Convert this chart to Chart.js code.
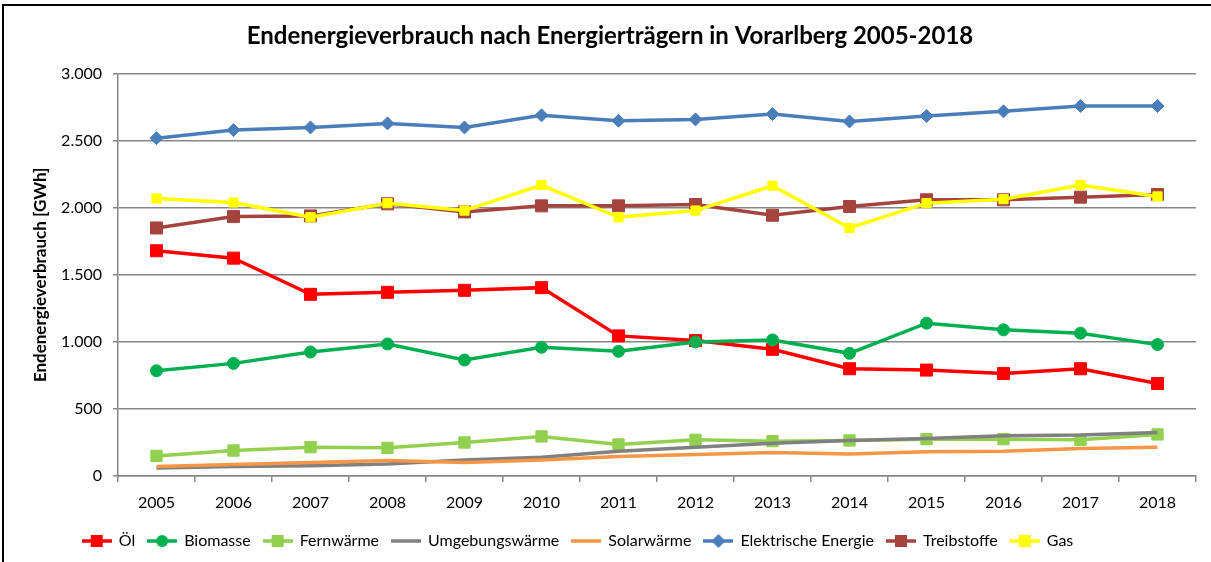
<!DOCTYPE html>
<html>
<head>
<meta charset="utf-8">
<script src="https://cdn.jsdelivr.net/npm/chart.js@4"></script>
<style>
  html, body { margin: 0; padding: 0; background: #fff; }
  #wrap { position: relative; width: 1211px; height: 562px; }
  canvas { display: block; }
</style>
</head>
<body>
<div id="wrap"><canvas id="c" width="1211" height="562"></canvas></div>
<script>
const years = ['2005','2006','2007','2008','2009','2010','2011','2012','2013','2014','2015','2016','2017','2018'];
const oel = [1680,1625,1355,1370,1385,1405,1045,1010,945,800,790,765,800,690];
const biomasse = [785,840,925,985,865,960,930,1000,1015,915,1140,1090,1065,980];
const fernwaerme = [150,190,215,210,250,295,235,270,260,265,275,275,270,310];
const umgebungswaerme = [60,70,77,90,120,140,185,215,245,265,280,300,305,325];
const solarwaerme = [70,85,100,115,100,120,145,160,175,165,180,185,205,215];
const elektrisch = [2520,2580,2600,2630,2600,2690,2650,2660,2700,2645,2685,2720,2760,2760];
const treibstoffe = [1850,1935,1940,2030,1970,2015,2015,2025,1945,2010,2060,2060,2080,2100];
const gas = [2070,2040,1930,2035,1980,2170,1930,1980,2165,1850,2035,2065,2170,2085];
const seriesNames = ['Öl','Biomasse','Fernwärme','Umgebungswärme','Solarwärme','Elektrische Energie','Treibstoffe','Gas'];
const yTickValues = [0,500,1000,1500,2000,2500,3000];
const yTickLabels = ['0','500','1.000','1.500','2.000','2.500','3.000'];
const titleText = 'Endenergieverbrauch nach Energierträgern in Vorarlberg 2005-2018';
const yTitle = 'Endenergieverbrauch [GWh]';

const FONT = 'Lato, "Open Sans", sans-serif';

const styles = [
  {color:'#FF0000', point:'rect', r:8.5},
  {color:'#00B050', point:'circle', r:6},
  {color:'#92D050', point:'rect', r:8},
  {color:'#808080', point:false, r:0},
  {color:'#F79646', point:false, r:0},
  {color:'#4A7EBB', point:'rectRot', r:6.5},
  {color:'#A5443F', point:'rect', r:8.5},
  {color:'#FFFF00', point:'rect', r:6.5}
];
const seriesData = [oel, biomasse, fernwaerme, umgebungswaerme, solarwaerme, elektrisch, treibstoffe, gas];

function legendIcon(st) {
  const c = document.createElement('canvas');
  c.width = 30; c.height = 16;
  const g = c.getContext('2d');
  g.strokeStyle = st.color; g.lineWidth = 3.5;
  g.beginPath(); g.moveTo(0, 8); g.lineTo(30, 8); g.stroke();
  g.fillStyle = st.color;
  if (st.point === 'rect') { g.fillRect(9, 2, 12, 12); }
  else if (st.point === 'circle') { g.beginPath(); g.arc(15, 8, 6, 0, Math.PI*2); g.fill(); }
  else if (st.point === 'rectRot') { g.beginPath(); g.moveTo(15,1); g.lineTo(22,8); g.lineTo(15,15); g.lineTo(8,8); g.closePath(); g.fill(); }
  return c;
}

const datasets = seriesData.map((d, i) => ({
  label: seriesNames[i],
  data: d,
  borderColor: styles[i].color,
  backgroundColor: styles[i].color,
  borderWidth: 3.5,
  pointStyle: styles[i].point || 'circle',
  pointRadius: styles[i].point ? styles[i].r : 0,
  pointBorderWidth: 1,
  pointBorderColor: styles[i].color,
  pointBackgroundColor: styles[i].color,
  tension: 0,
  order: 10 - i
}));

const framePlugin = {
  id: 'frame',
  afterLayout(chart) {
    if (chart.legend) { chart.legend.left -= 20; chart.legend.right -= 20; }
    if (chart.titleBlock) { chart.titleBlock.left += 12; chart.titleBlock.right += 12; }
  },
  beforeDraw(chart) {
    const ctx = chart.ctx;
    ctx.save();
    ctx.fillStyle = '#fff';
    ctx.fillRect(0, 0, chart.width, chart.height);
    ctx.fillStyle = '#000';
    ctx.fillRect(2, 4, chart.width - 2, 2);
    ctx.fillRect(2, 4, 2, chart.height - 4);
    ctx.restore();
  }
};

new Chart(document.getElementById('c'), {
  type: 'line',
  data: { labels: years, datasets },
  plugins: [framePlugin],
  options: {
    responsive: false,
    animation: false,
    devicePixelRatio: 1,
    layout: { padding: { left: 0, right: 15, top: 0, bottom: 3 } },
    plugins: {
      tooltip: { enabled: false },
      title: {
        display: true, text: titleText, color: '#000',
        font: { family: FONT, size: 24, weight: 'bold' },
        padding: { top: 22, bottom: 23 }
      },
      legend: {
        position: 'bottom',
        labels: {
          color: '#000',
          font: { family: FONT, size: 16 },
          usePointStyle: true,
          pointStyleWidth: 28,
          boxHeight: 16,
          padding: 13,
          generateLabels(chart) {
            return chart.data.datasets.map((ds, i) => ({
              text: ds.label,
              pointStyle: legendIcon(styles[i]),
              fillStyle: styles[i].color,
              strokeStyle: styles[i].color,
              lineWidth: 0,
              hidden: false,
              datasetIndex: i
            }));
          }
        }
      }
    },
    scales: {
      x: {
        offset: true,
        grid: { offset: true, drawOnChartArea: false, drawTicks: true, tickLength: 6, color: '#868686', lineWidth: 1.5 },
        border: { color: '#868686', width: 1.5 },
        ticks: { color: '#000', font: { family: FONT, size: 16 }, padding: 11, maxRotation: 0 },
        afterFit(s) { s.height = 44; }
      },
      y: {
        min: 0, max: 3000,
        afterBuildTicks(s) { s.ticks = yTickValues.map(v => ({ value: v })); },
        grid: { color: '#868686', lineWidth: 1.5, tickLength: 5 },
        border: { color: '#868686', width: 1.5 },
        ticks: {
          color: '#000', font: { family: FONT, size: 16 }, padding: 11,
          callback(v) { const k = yTickValues.indexOf(v); return k >= 0 ? yTickLabels[k] : ''; }
        },
        title: {
          display: true, text: yTitle, color: '#000',
          font: { family: FONT, size: 17, weight: 'bold' },
          padding: { top: 30, bottom: 0 }
        },
        afterFit(s) { s.width = 118; }
      }
    }
  }
});
</script>
</body>
</html>
